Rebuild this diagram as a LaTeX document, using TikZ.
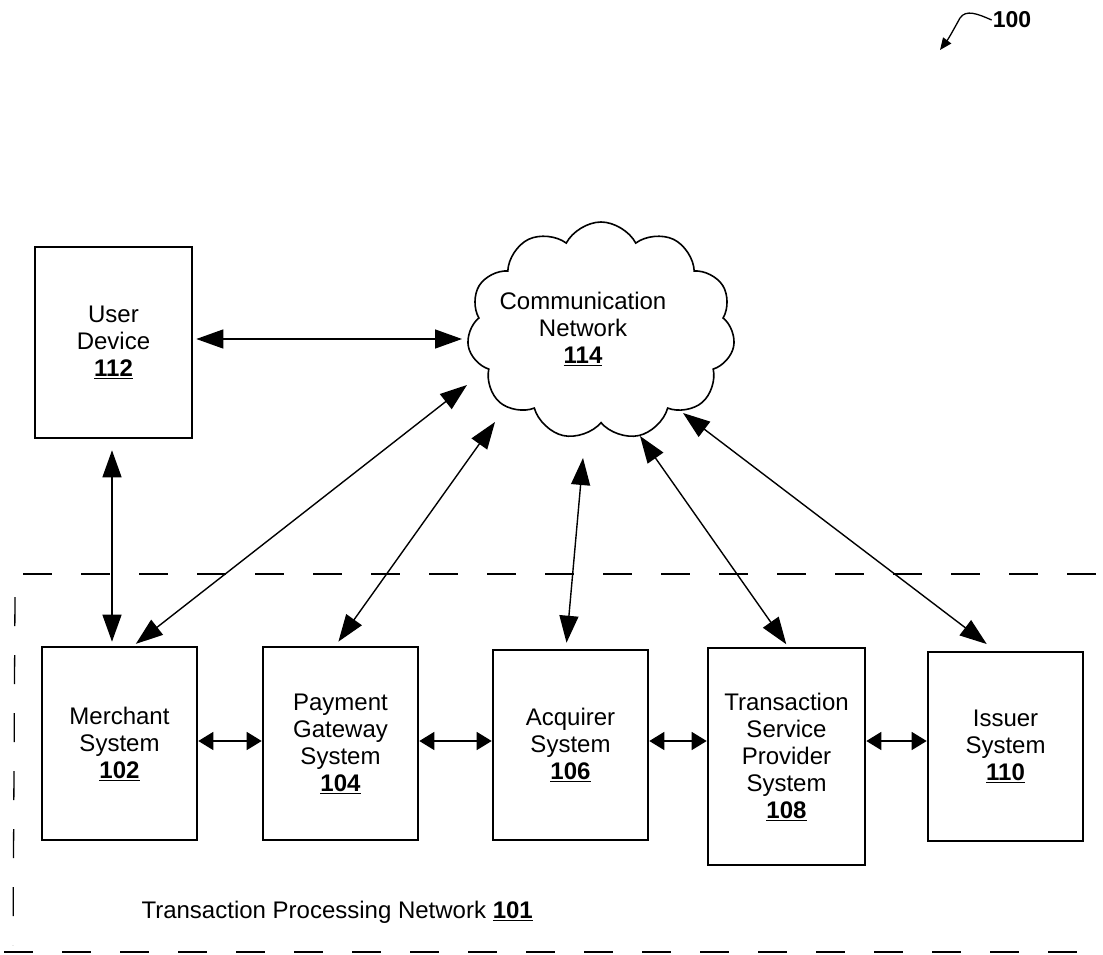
\documentclass[tikz,border=0pt]{standalone}
\usepackage{fontspec}
\setmainfont{Liberation Sans}
\usetikzlibrary{arrows.meta,shapes.symbols,calc}
\begin{document}
\begin{tikzpicture}[x=1pt,y=-1pt,
  box/.style={draw, line width=2.6pt, align=center, inner sep=0pt, font=\fontsize{24}{27}\selectfont},
  lbl/.style={align=center, font=\fontsize{24}{27}\selectfont},
  conn/.style={line width=1.4pt, {Triangle[length=27pt,width=19pt]}-{Triangle[length=27pt,width=19pt]}},
  shortarr/.style={line width=1.4pt, {Triangle[length=15pt,width=18pt]}-{Triangle[length=15pt,width=18pt]}},
  dashline/.style={line width=1.3pt, dash pattern=on 29pt off 29pt},
]
\useasboundingbox (0,0) rectangle (1103,955);

% boxes
\node[box, minimum width=157pt, minimum height=191pt] (ud) at (113.5,342.5) {User\\Device\\\underline{\textbf{112}}};
\node[box, minimum width=155pt, minimum height=193pt] (m) at (119.5,743.5) {Merchant\\System\\\underline{\textbf{102}}};
\node[box, minimum width=155pt, minimum height=193pt] (pg) at (340.5,743.5) {Payment\\Gateway\\System\\\underline{\textbf{104}}};
\node[box, minimum width=155pt, minimum height=190pt] (aq) at (570.5,745) {Acquirer\\System\\\underline{\textbf{106}}};
\node[box, minimum width=157pt, minimum height=217pt] (tsp) at (786.5,756.5) {Transaction\\Service\\Provider\\System\\\underline{\textbf{108}}};
\node[box, minimum width=155pt, minimum height=189pt] (is) at (1005.5,746.5) {Issuer\\System\\\underline{\textbf{110}}};

% cloud
\node[cloud, draw, line width=1.6pt, cloud puffs=11, cloud puff arc=125, aspect=1.2,
      minimum width=268pt, minimum height=218pt, inner sep=0pt] (net) at (601,331) {};
\node[lbl] (nett) at (583,329) {Communication\\Network\\\underline{\textbf{114}}};

% cloud end points
\coordinate (c1) at (462,339);
\coordinate (c2) at (467,385);
\coordinate (c3) at (495,422);
\coordinate (c4) at (583,458);
\coordinate (c5) at (640,436);
\coordinate (c6) at (683,413);
\coordinate (vx) at (112,0);
\coordinate (hy) at (0,741);

% connectors to cloud
\draw[conn, shorten <=3pt] (ud.east |- c1) -- (c1);
\draw[conn, shorten <=11pt, shorten >=4pt] (ud.south -| vx) -- (m.north -| vx);
\draw[conn, shorten <=3pt] ([xshift=14pt]m.north) -- (c2);
\draw[conn, shorten <=5pt] ([xshift=-5pt]pg.north) -- (c3);
\draw[conn, shorten <=6pt] ([xshift=-4.5pt]aq.north) -- (c4);
\draw[conn, shorten <=3pt] ([xshift=1.5pt]tsp.north) -- (c5);
\draw[conn, shorten <=11pt] ([xshift=-10pt]is.north) -- (c6);

% horizontal connectors
\draw[shortarr] (m.east |- hy) -- (pg.west |- hy);
\draw[shortarr] (pg.east |- hy) -- (aq.west |- hy);
\draw[shortarr] (aq.east |- hy) -- (tsp.west |- hy);
\draw[shortarr] (tsp.east |- hy) -- (is.west |- hy);

% dashed boundary
\draw[dashline] (23,574) -- (1103,574);
\draw[dashline] (15,597) -- (13,945);
\draw[dashline] (4,952) -- (1103,952);
\node[lbl, anchor=west] (tpn) at (138,912) {Transaction Processing Network \underline{\textbf{101}}};

% reference label
\node[font=\fontsize{23}{27}\selectfont\bfseries, inner sep=1pt] (ref) at (1012,20) {100};
\draw[line width=1.3pt, -{Triangle[length=12pt,width=10pt]}] (ref.west) .. controls (978,14) and (966,9) .. (960,18) .. controls (955,27) and (949,38) .. (940,50);
\end{tikzpicture}
\end{document}
